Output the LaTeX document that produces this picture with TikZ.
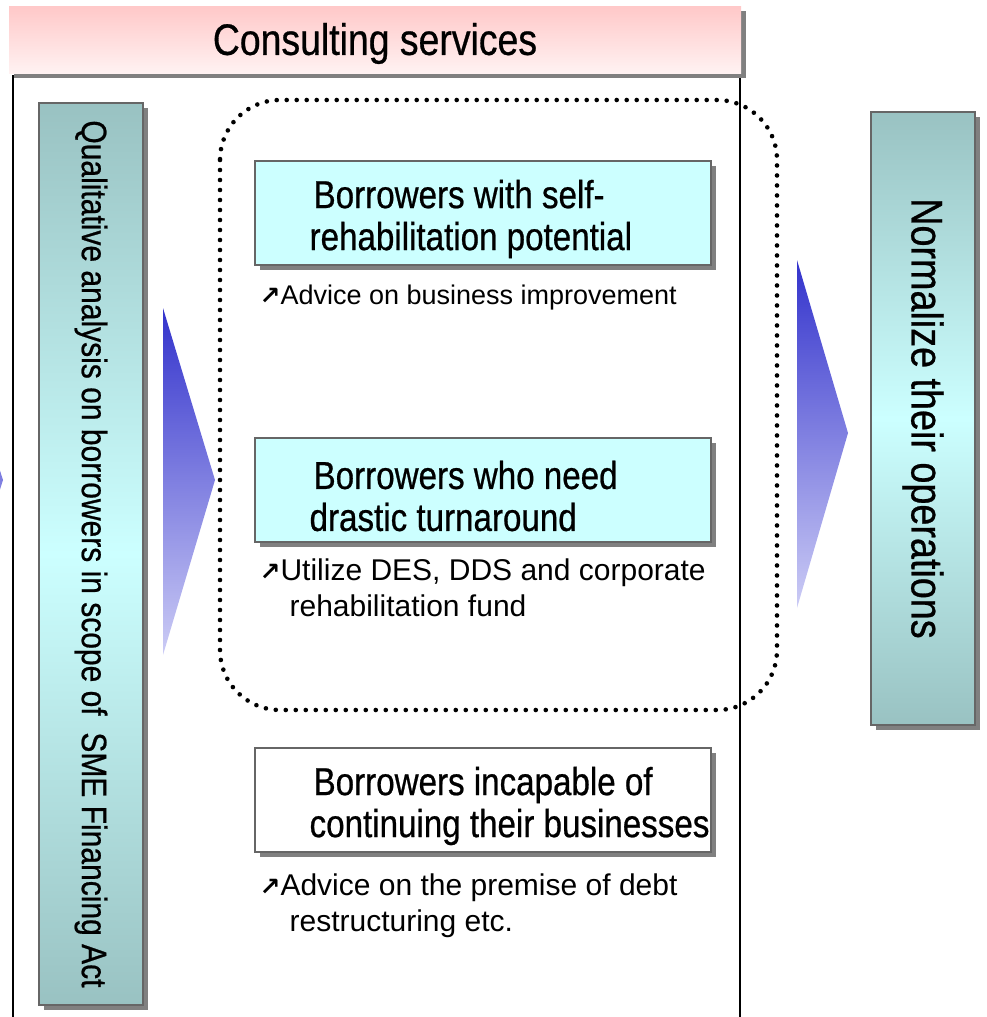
\documentclass[tikz,border=0pt]{standalone}
\usepackage{fontspec}
\setmainfont{Liberation Sans}
\newfontfamily\headfont[FakeStretch=0.85,FakeBold=0.6]{Liberation Sans}
\newfontfamily\arrowfont{DejaVu Sans Bold}
\usetikzlibrary{positioning,shadows}
\definecolor{headtop}{RGB}{255,200,200}
\definecolor{headbottom}{RGB}{255,242,242}
\definecolor{bardark}{RGB}{153,194,194}
\definecolor{barlight}{RGB}{204,255,255}
\definecolor{arrowtop}{RGB}{51,51,204}
\definecolor{arrowbottom}{RGB}{204,204,245}
\newcommand{\notearrow}{{\arrowfont\fontsize{25}{25}\selectfont ↗}}
\tikzset{
  gray shadow/.style={
    drop shadow={shadow xshift=5pt, shadow yshift=-5pt, fill=black!50, opacity=1}
  },
  head box/.style={
    gray shadow,
    top color=headtop, bottom color=headbottom,
    minimum width=732pt, minimum height=67pt
  },
  side bar/.style={
    gray shadow,
    draw=black!60, line width=1.2pt,
    top color=bardark, bottom color=bardark, middle color=barlight,
    minimum width=104pt
  },
  bar text/.style={
    rotate=-90, inner sep=0pt,
    font=\headfont
  },
  case box/.style={
    gray shadow,
    draw=black!60, line width=1.2pt,
    minimum width=456pt, minimum height=104pt
  },
  title text/.style={
    inner sep=0pt, align=left, yshift=-6pt,
    font=\headfont\fontsize{39}{42}\selectfont
  },
  note text/.style={
    inner sep=0pt, align=left,
    font=\fontsize{30}{36}\selectfont
  },
  frame line/.style={line width=1.3pt},
  dot frame/.style={
    line width=4.6pt, line cap=round,
    dash pattern=on 0pt off 10pt,
    rounded corners=60pt
  }
}

\begin{document}
\begin{tikzpicture}[x=1pt,y=-1pt]
\useasboundingbox (0,0) rectangle (986,1017);

% side lines under the header
\draw [frame line] (13,75) -- (13,1017);
\draw [frame line] (740,75) -- (740,1017);

\node (head) [head box] at (375,39.5) {};
\node (headtxt) [inner sep=0pt, yshift=-4pt] at (head) {\headfont\fontsize{44}{48}\selectfont Consulting services};

% left and right bars
\node (scope) [side bar, minimum height=902pt] at (91,554) {};
\node (scopetxt) [bar text] at (scope) {\fontsize{35.3}{40}\selectfont Qualitative analysis on borrowers in scope of \ SME Financing Act};
\node (normal) [side bar, minimum height=613pt] at (923,418.5) {};
\node (normaltxt) [bar text] at (normal) {\fontsize{44.4}{48}\selectfont Normalize their operations};

% big arrows
\begin{scope}
\clip (0,0) rectangle (986,1017);
\shade [top color=arrowtop, bottom color=arrowbottom] (-52,308) -- (3,480) -- (-52,655) -- cycle;
\end{scope}
\shade [top color=arrowtop, bottom color=arrowbottom] (163,308) -- (215,480) -- (163,655) -- cycle;
\shade [top color=arrowtop, bottom color=arrowbottom] (797,260) -- (848,433) -- (797,608) -- cycle;

% borrowers that can be rehabilitated
\draw [dot frame] (220,100) rectangle (777,710);

\node (selfreh) [case box, fill=barlight] at (483,213) {};
\node (selfrehtxt) [title text, right=55pt of selfreh.west] {\hspace*{4pt}Borrowers with self-\\rehabilitation potential};
\node (selfrehnote) [note text, font=\fontsize{27}{36}\selectfont, below right=19pt and 5pt of selfreh.south west] {\notearrow Advice on business improvement};

\node (turn) [case box, fill=barlight] at (483,490) {};
\node (turntxt) [title text, right=55pt of turn.west] {\hspace*{4pt}Borrowers who need\\drastic turnaround};
\node (turnnote) [note text, below right=16pt and 5pt of turn.south west] {\notearrow Utilize DES, DDS and corporate\\\hspace*{30pt}rehabilitation fund};

\node (incap) [case box, fill=white] at (483,800) {};
\node (incaptxt) [title text, right=55pt of incap.west] {\hspace*{4pt}Borrowers incapable of\\continuing their businesses};
\node (incapnote) [note text, below right=21pt and 5pt of incap.south west] {\notearrow Advice on the premise of debt\\\hspace*{30pt}restructuring etc.};
\end{tikzpicture}
\end{document}
